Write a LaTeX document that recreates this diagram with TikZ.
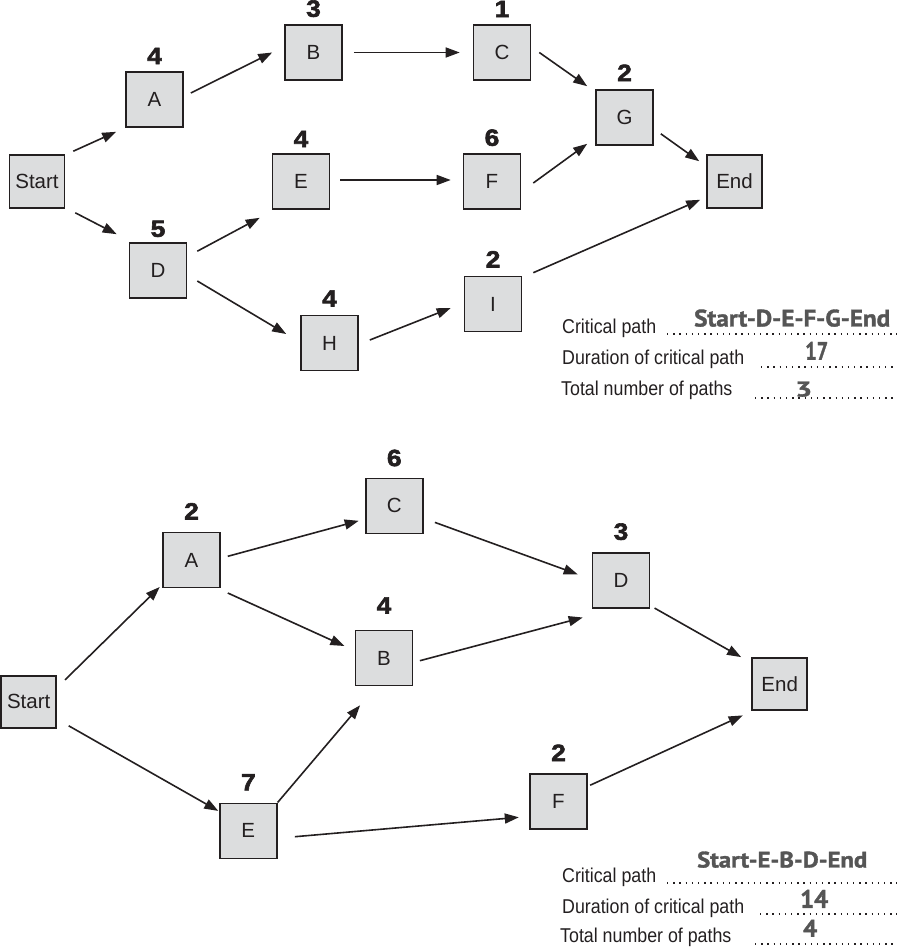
\documentclass[tikz,border=0pt]{standalone}
\usepackage{fontspec}
\setmainfont{Liberation Sans}
\newfontfamily\labfont[FakeStretch=0.89]{Liberation Sans}
\newfontfamily\numfont[FakeBold=2.6,FakeStretch=1.12]{Liberation Sans}
\newfontfamily\handfont[FakeBold=1.5]{PT Sans}
\usetikzlibrary{arrows.meta,calc}
\definecolor{boxgray}{HTML}{DCDDDE}
\definecolor{ink}{HTML}{231F20}
\definecolor{handgray}{HTML}{555555}
\tikzset{
  box/.style={draw=ink, fill=boxgray, line width=1.6pt, minimum width=57pt, minimum height=55pt,
    inner sep=0pt, text=ink, font=\fontsize{20.5}{20.5}\selectfont},
  endbox/.style={box, minimum width=55pt, minimum height=53pt},
  num/.style={inner sep=0pt, text=ink, font=\numfont\bfseries\fontsize{23.5}{23.5}\selectfont},
  arr/.style={draw=ink, line width=1.6pt, -{Triangle[length=14pt,width=10pt]}},
  info/.style={anchor=base west, inner sep=0pt, text=ink, font=\labfont\fontsize{20}{20}\selectfont},
  dots/.style={draw=ink, line width=1.3pt, dash pattern=on 1.3pt off 4.9pt},
  hand/.style={anchor=south west, inner sep=0pt, text=handgray, font=\handfont\bfseries\fontsize{22}{22}\selectfont}
}
\begin{document}
\begin{tikzpicture}[x=1pt,y=-1pt]
\useasboundingbox (0,0) rectangle (898,951);
% ---------- top network ----------
\node[endbox] (S1) at (37,181.5) {Start};
\node[box, label={[num,label distance=7pt]above:4}] (A1) at (154.5,99.5) {A};
\node[box, label={[num,label distance=7pt]above:3}] (B1) at (313.5,52.5) {B};
\node[box, label={[num,label distance=7pt]above:1}] (C1) at (502,52.5) {C};
\node[box, label={[num,label distance=6pt]above:4}] (E1) at (301,181.5) {E};
\node[box, label={[num,label distance=7pt]above:6}] (F1) at (492,181.5) {F};
\node[box, label={[num,label distance=8pt]above:2}] (G1) at (624.5,117.5) {G};
\node[endbox] (End1) at (734.5,181.5) {End};
\node[box, label={[num,label distance=5pt]above:5}] (D1) at (158,270.5) {D};
\node[box, label={[num,label distance=8pt]above:4}] (H1) at (329.5,343) {H};
\node[box, label={[num,label distance=8pt]above:2}] (I1) at (493,304) {I};

\draw[arr] ($(S1.north east)+(8,-3)$) -- ($(A1.south west)+(-9,4)$);
\draw[arr] ($(S1.south east)+(10,4)$) -- ($(D1.north west)+(-12,-8)$);
\draw[arr] ($(A1.east)+(7,-6.5)$) -- ($(B1.west)+(-12,0)$);
\draw[arr] ($(B1.east)+(11,0)$) -- ($(C1.west)+(-13,0)$);
\draw[arr] ($(D1.north east)+(10,9)$) -- ($(E1.south west)+(-12,8)$);
\draw[arr] ($(D1.east)+(10,10.5)$) -- ($(H1.west)+(-14,-9)$);
\draw[arr] ($(E1.east)+(10,-1.5)$) -- ($(F1.west)+(-12,-1.5)$);
\draw[arr] ($(H1.east)+(11,-3)$) -- ($(I1.west)+(-13,4)$);
\draw[arr] ($(C1.east)+(8,0)$) -- ($(G1.north west)+(-8,-3)$);
\draw[arr] ($(F1.east)+(12,1.5)$) -- ($(G1.south west)+(-8,-2)$);
\draw[arr] ($(G1.south east)+(7,-12)$) -- ($(End1.north west)+(-7,7)$);
\draw[arr] ($(I1.north east)+(11,-3)$) -- ($(End1.south west)+(-6,-9)$);

% top answers
\node[info] (cp1) at (562,333) {Critical path};
\node[info] (du1) at (562,364) {Duration of critical path};
\node[info] (tn1) at (561,395) {Total number of paths};
\coordinate (d1a) at (667,334); \coordinate (d1b) at (897,334);
\coordinate (d2a) at (761,367); \coordinate (d2b) at (897,367);
\coordinate (d3a) at (755,398); \coordinate (d3b) at (897,398);
\draw[dots] (d1a) -- (d1b);
\draw[dots] (d2a) -- (d2b);
\draw[dots] (d3a) -- (d3b);
\node[hand] (h1) at (694,327) {\resizebox{196pt}{17pt}{Start-D-E-F-G-End}};
\node[hand] (h2) at (805,360) {\resizebox{23pt}{18pt}{17}};
\node[hand] (h3) at (795,397) {\resizebox{17pt}{15pt}{3}};

% ---------- bottom network ----------
\node[endbox, minimum width=55pt, minimum height=52pt] (S2) at (28.7,701.7) {Start};
\node[box, label={[num,label distance=12pt]above:2}] (A2) at (191.5,560) {A};
\node[box, label={[num,label distance=11pt]above:6}] (C2) at (394.3,505.8) {C};
\node[box, label={[num,label distance=16pt]above:4}] (B2) at (384,658) {B};
\node[box, label={[num,label distance=12pt]above:7}] (E2) at (248.3,830.8) {E};
\node[box, label={[num,label distance=12pt]above:3}] (D2) at (621,580.5) {D};
\node[endbox, minimum width=55pt, minimum height=52pt] (End2) at (779.7,684.2) {End};
\node[box, label={[num,label distance=12pt]above:2}] (F2) at (558.5,801.5) {F};

\draw[arr] ($(S2.north east)+(8,5)$) -- ($(A2.south west)+(-2.5,-1.3)$);
\draw[arr] ($(S2.south east)+(11.7,-2.7)$) -- ($(E2.north west)+(-0.7,8.4)$);
\draw[arr] ($(A2.east)+(7,-3.7)$) -- ($(C2.west)+(-6.3,15)$);
\draw[arr] ($(A2.south east)+(7,4.7)$) -- ($(B2.west)+(-10.3,-12)$);
\draw[arr] ($(C2.east)+(11.3,16.6)$) -- ($(D2.west)+(-14,-6.2)$);
\draw[arr] ($(B2.east)+(6.6,2.7)$) -- ($(D2.south west)+(-9,8.7)$);
\draw[arr] ($(D2.south east)+(4.3,-0.7)$) -- ($(End2.north west)+(-10.3,-0.3)$);
\draw[arr] (E2.north east) -- ($(B2.south west)+(5.4,19)$);
\draw[arr] ($(E2.east)+(17.3,5.9)$) -- ($(F2.west)+(-10.4,15.8)$);
\draw[arr] ($(F2.north east)+(2.4,12)$) -- ($(End2.south west)+(-8.7,4.4)$);

% bottom answers
\node[info] (cp2) at (562,882) {Critical path};
\node[info] (du2) at (562,913) {Duration of critical path};
\node[info] (tn2) at (560,942) {Total number of paths};
\coordinate (e1a) at (667,883); \coordinate (e1b) at (897,883);
\coordinate (e2a) at (760,914); \coordinate (e2b) at (897,914);
\coordinate (e3a) at (755,944); \coordinate (e3b) at (897,944);
\draw[dots] (e1a) -- (e1b);
\draw[dots] (e2a) -- (e2b);
\draw[dots] (e3a) -- (e3b);
\node[hand] (k1) at (697,868) {\resizebox{170pt}{16pt}{Start-E-B-D-End}};
\node[hand] (k2) at (800,908) {\resizebox{28pt}{18pt}{14}};
\node[hand] (k3) at (803,937) {\resizebox{14pt}{17pt}{4}};
\end{tikzpicture}
\end{document}
